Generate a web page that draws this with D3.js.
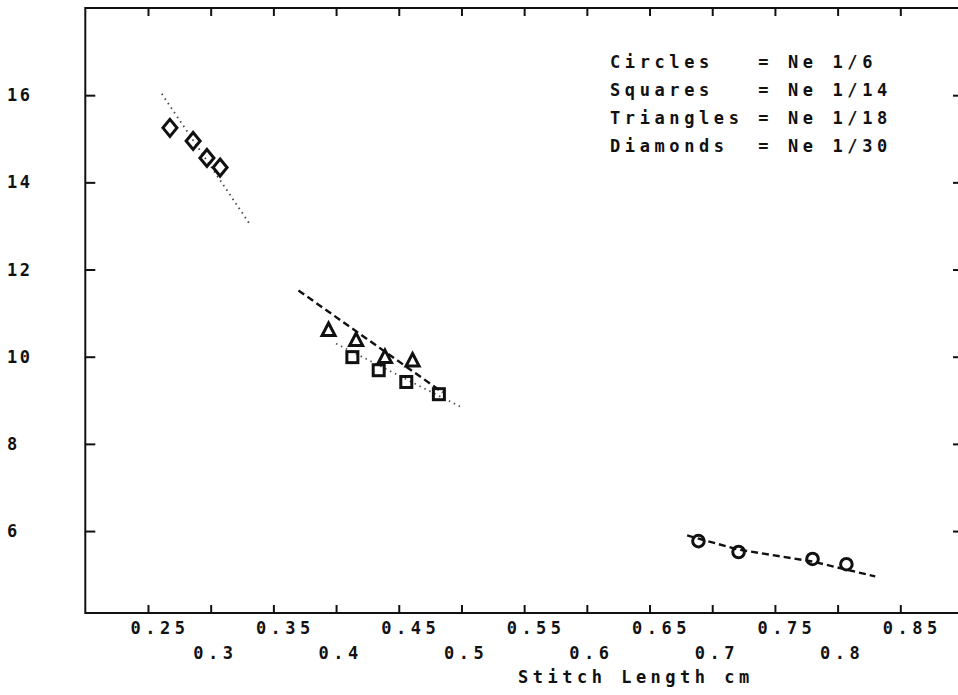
<!DOCTYPE html>
<html>
<head>
<meta charset="utf-8">
<script src="https://cdn.jsdelivr.net/npm/d3@7"></script>
<style>
  html, body { margin: 0; padding: 0; background: #fff; }
  svg { display: block; }
  text { font-family: "DejaVu Sans Mono", "Liberation Mono", monospace; fill: #111; white-space: pre; font-weight: 600; }
</style>
</head>
<body>
<svg id="chart" width="958" height="695"></svg>
<script>
// ---- data ----
const xTicks = [0.25, 0.3, 0.35, 0.4, 0.45, 0.5, 0.55, 0.6, 0.65, 0.7, 0.75, 0.8, 0.85];
const xTickLabels = ["0.25", "0.3", "0.35", "0.4", "0.45", "0.5", "0.55", "0.6", "0.65", "0.7", "0.75", "0.8", "0.85"];
const yTicks = [6, 8, 10, 12, 14, 16];
const yTickLabels = ["6", "8", "10", "12", "14", "16"];

const circlesX = [0.689, 0.721, 0.780, 0.807];
const circlesY = [5.77, 5.52, 5.36, 5.24];
const circlesFitX = [0.680, 0.720, 0.780, 0.830];
const circlesFitY = [5.90, 5.58, 5.30, 4.96];

const squaresX = [0.413, 0.434, 0.456, 0.482];
const squaresY = [9.99, 9.69, 9.42, 9.14];
const squaresFitX = [0.400, 0.500];
const squaresFitY = [10.30, 8.84];

const trianglesX = [0.394, 0.416, 0.439, 0.461];
const trianglesY = [10.60, 10.37, 9.98, 9.90];
const trianglesFitX = [0.370, 0.485];
const trianglesFitY = [11.52, 9.18];

const diamondsX = [0.2675, 0.286, 0.297, 0.3075];
const diamondsY = [15.25, 14.95, 14.56, 14.34];
const diamondsFitX = [0.261, 0.331];
const diamondsFitY = [16.03, 13.05];

const legendLines = ["Circles   = Ne 1/6", "Squares   = Ne 1/14", "Triangles = Ne 1/18", "Diamonds  = Ne 1/30"];
const xTitle = "Stitch Length cm";

// ---- layout ----
const svg = d3.select("#chart");
const padL = 85.3, padR = 963, padT = 8, padB = 613;
const x = d3.scaleLinear().domain([0.2, 0.9]).range([padL, padR]);
const y = d3.scaleLinear().domain([4.12, 18]).range([padB, padT]);

const ink = "#111";
const fontSize = 17, spacing = 4.5;

// frame
svg.append("rect").attr("x", padL).attr("y", padT)
  .attr("width", padR - padL).attr("height", padB - padT)
  .attr("fill", "none").attr("stroke", ink).attr("stroke-width", 2);

// axes with inward ticks
svg.append("g").attr("transform", `translate(0,${padB})`)
  .call(d3.axisTop(x).tickValues(xTicks).tickSize(8).tickFormat(""))
  .call(g => g.select(".domain").remove())
  .selectAll("line").attr("stroke", ink).attr("stroke-width", 2);
svg.append("g").attr("transform", `translate(0,${padT})`)
  .call(d3.axisBottom(x).tickValues(xTicks).tickSize(8).tickFormat(""))
  .call(g => g.select(".domain").remove())
  .selectAll("line").attr("stroke", ink).attr("stroke-width", 2);
svg.append("g").attr("transform", `translate(${padL},0)`)
  .call(d3.axisRight(y).tickValues(yTicks).tickSize(10).tickFormat(""))
  .call(g => g.select(".domain").remove())
  .selectAll("line").attr("stroke", ink).attr("stroke-width", 2);
svg.append("g").attr("transform", `translate(${padR},0)`)
  .call(d3.axisLeft(y).tickValues(yTicks).tickSize(10).tickFormat(""))
  .call(g => g.select(".domain").remove())
  .selectAll("line").attr("stroke", ink).attr("stroke-width", 2);

// x tick labels, alternating rows
svg.append("g").selectAll("text").data(xTicks).join("text")
  .attr("x", d => x(d) - 17.5)
  .attr("y", (d, i) => i % 2 === 0 ? 628 : 653)
  .attr("dy", "0.36em")
  .attr("font-size", fontSize)
  .attr("letter-spacing", spacing)
  .text((d, i) => xTickLabels[i]);

// y tick labels
svg.append("g").selectAll("text").data(yTicks).join("text")
  .attr("x", 7)
  .attr("y", d => y(d))
  .attr("dy", "0.36em")
  .attr("font-size", fontSize)
  .attr("letter-spacing", 2.5)
  .text((d, i) => yTickLabels[i]);

// x title
svg.append("text").attr("x", 518).attr("y", 677).attr("dy", "0.36em")
  .attr("font-size", fontSize).attr("letter-spacing", spacing).text(xTitle);

// legend
svg.append("g").selectAll("text").data(legendLines).join("text")
  .attr("x", 610).attr("y", (d, i) => 62 + i * 28).attr("dy", "0.36em")
  .attr("font-size", fontSize).attr("letter-spacing", spacing + 0.1).text(d => d);

// fit lines
const line = d3.line().x(d => x(d[0])).y(d => y(d[1]));
function fit(xs, ys, dash, width, color) {
  svg.append("path").datum(xs.map((v, i) => [v, ys[i]]))
    .attr("d", line).attr("fill", "none").attr("stroke", color)
    .attr("stroke-width", width).attr("stroke-dasharray", dash);
}
fit(diamondsFitX, diamondsFitY, "1.5,4", 1.8, "#444");
fit(squaresFitX, squaresFitY, "1.5,4", 1.8, "#555");
fit(trianglesFitX, trianglesFitY, "7,4", 2.4, ink);
fit(circlesFitX, circlesFitY, "7,4", 2.4, ink);

// markers
const mk = svg.append("g").attr("fill", "none").attr("stroke", ink).attr("stroke-width", 3);
const zip = (xs, ys) => xs.map((v, i) => [v, ys[i]]);
mk.selectAll(".circ").data(zip(circlesX, circlesY)).join("circle")
  .attr("cx", d => x(d[0])).attr("cy", d => y(d[1])).attr("r", 5.8);
mk.selectAll(".sq").data(zip(squaresX, squaresY)).join("rect")
  .attr("x", d => x(d[0]) - 5.5).attr("y", d => y(d[1]) - 5.5)
  .attr("width", 11).attr("height", 11);
mk.selectAll(".tri").data(zip(trianglesX, trianglesY)).join("path")
  .attr("d", d => { const cx = x(d[0]), cy = y(d[1]); return `M${cx},${cy-7.5}L${cx+6.5},${cy+5}L${cx-6.5},${cy+5}Z`; });
mk.selectAll(".dia").data(zip(diamondsX, diamondsY)).join("path")
  .attr("d", d => { const cx = x(d[0]), cy = y(d[1]); return `M${cx},${cy-8.5}L${cx+7},${cy}L${cx},${cy+8.5}L${cx-7},${cy}Z`; });
</script>
</body>
</html>
